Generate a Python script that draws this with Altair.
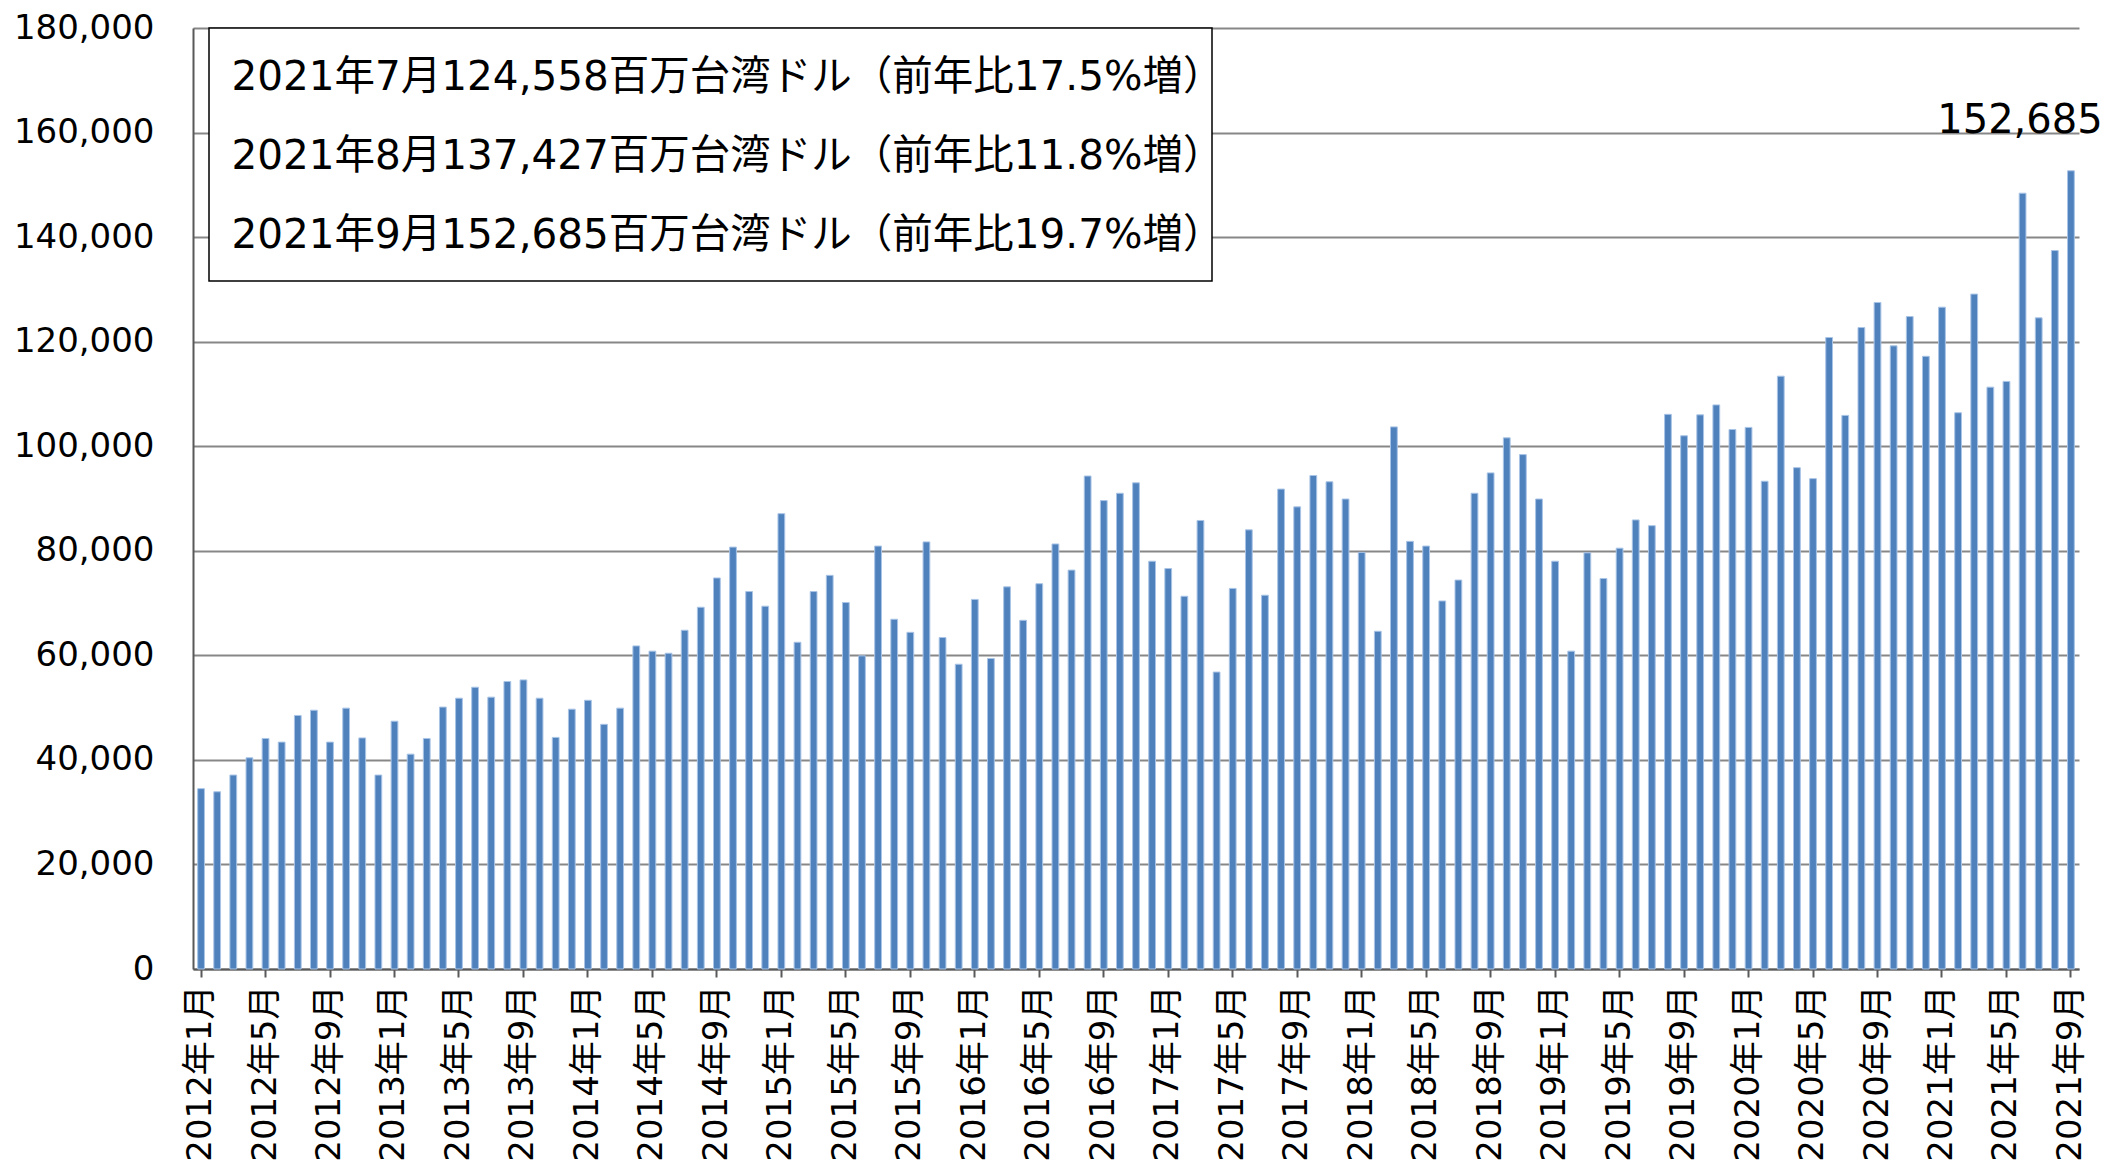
import altair as alt
import pandas as pd

# ---- data ----
years = list(range(2012, 2022))
months = list(range(1, 13))
labels = [f"{y}年{m}月" for y in years for m in months][:117]

values = [
    # 2012
    34500, 33900, 37100, 40400, 44100, 43400, 48500, 49500, 43400, 49900, 44200, 37100,
    # 2013
    47400, 41100, 44100, 50100, 51800, 53900, 52000, 55000, 55300, 51800, 44300, 49700,
    # 2014
    51400, 46800, 49900, 61800, 60800, 60400, 64800, 69200, 74800, 80700, 72200, 69400,
    # 2015
    87100, 62500, 72200, 75300, 70100, 59900, 80900, 66900, 64400, 81700, 63400, 58300,
    # 2016
    70700, 59400, 73100, 66700, 73700, 81300, 76300, 94300, 89600, 91000, 93000, 78000,
    # 2017
    76600, 71300, 85800, 56800, 72800, 84000, 71500, 91800, 88400, 94400, 93200, 89900,
    # 2018
    79700, 64600, 103700, 81800, 80900, 70400, 74400, 91000, 94900, 101600, 98400, 89900,
    # 2019
    78000, 60800, 79600, 74700, 80500, 85900, 84800, 106100, 102000, 106000, 107900, 103200,
    # 2020
    103600, 93300, 113400, 95900, 93800, 120800, 105900, 122700, 127500, 119200, 124800, 117200,
    # 2021
    126600, 106400, 129100, 111300, 112400, 148400, 124558, 137427, 152685,
]

tick_labels = [lab for i, lab in enumerate(labels) if i % 4 == 0]
y_ticks = list(range(0, 180001, 20000))

legend_lines = [
    "2021年7月124,558百万台湾ドル（前年比17.5%増）",
    "2021年8月137,427百万台湾ドル（前年比11.8%増）",
    "2021年9月152,685百万台湾ドル（前年比19.7%増）",
]

FONT = "DejaVu Sans, Noto Sans CJK JP, sans-serif"

df = pd.DataFrame({"month": labels, "value": values})

x_enc = alt.X(
    "month:N",
    sort=labels,
    scale=alt.Scale(paddingInner=0.58, paddingOuter=0.29),
    axis=alt.Axis(
        values=tick_labels,
        labelAngle=270,
        title=None,
        labelFont=FONT,
        labelFontSize=34,
        labelColor="#000000",
        labelPadding=8,
        ticks=True,
        tickSize=8,
        tickColor="#595959",
        tickWidth=2,
        domainColor="#595959",
        domainWidth=2,
        grid=False,
    ),
)

y_enc = alt.Y(
    "value:Q",
    scale=alt.Scale(domain=[0, 180000], nice=False),
    axis=alt.Axis(
        values=y_ticks,
        format=",d",
        title=None,
        labelFont=FONT,
        labelFontSize=34,
        labelColor="#000000",
        labelPadding=39,
        ticks=False,
        domainColor="#595959",
        domainWidth=2,
        grid=True,
        gridColor="#878787",
        gridWidth=2,
        minExtent=180,
        maxExtent=180,
    ),
)

bars = alt.Chart(df).mark_bar(
    color="#4F81BD", stroke="#A9C4E6", strokeWidth=1
).encode(x=x_enc, y=y_enc)

annot = alt.Chart(df).transform_filter(
    alt.datum.month == labels[-1]
).mark_text(
    font=FONT, fontSize=40, color="#000000", align="center", baseline="middle",
    dx=-51, dy=-50,
).encode(
    x=alt.X("month:N", sort=labels),
    y=alt.Y("value:Q"),
    text=alt.Text("value:Q", format=",d"),
)

box_df = pd.DataFrame({"text": ["\n".join(legend_lines)]})

box = alt.Chart(box_df).mark_rect(
    fill="white", stroke="#000000", strokeWidth=1.5
).encode(
    x=alt.value(16), x2=alt.value(1019), y=alt.value(0), y2=alt.value(253)
)

box_text = alt.Chart(box_df).mark_text(
    font=FONT, fontSize=40.5, color="#000000", align="left", baseline="middle",
    lineBreak="\n", lineHeight=79,
).encode(
    x=alt.value(38.5), y=alt.value(50), text="text:N"
)

chart = alt.layer(bars, annot, box, box_text).properties(
    width=1886,
    height=941,
    padding={"left": 5, "top": 3, "right": 5, "bottom": 2},
).configure_view(stroke=None)

chart.save("out.html", embed_options={"renderer": "svg", "actions": False})
